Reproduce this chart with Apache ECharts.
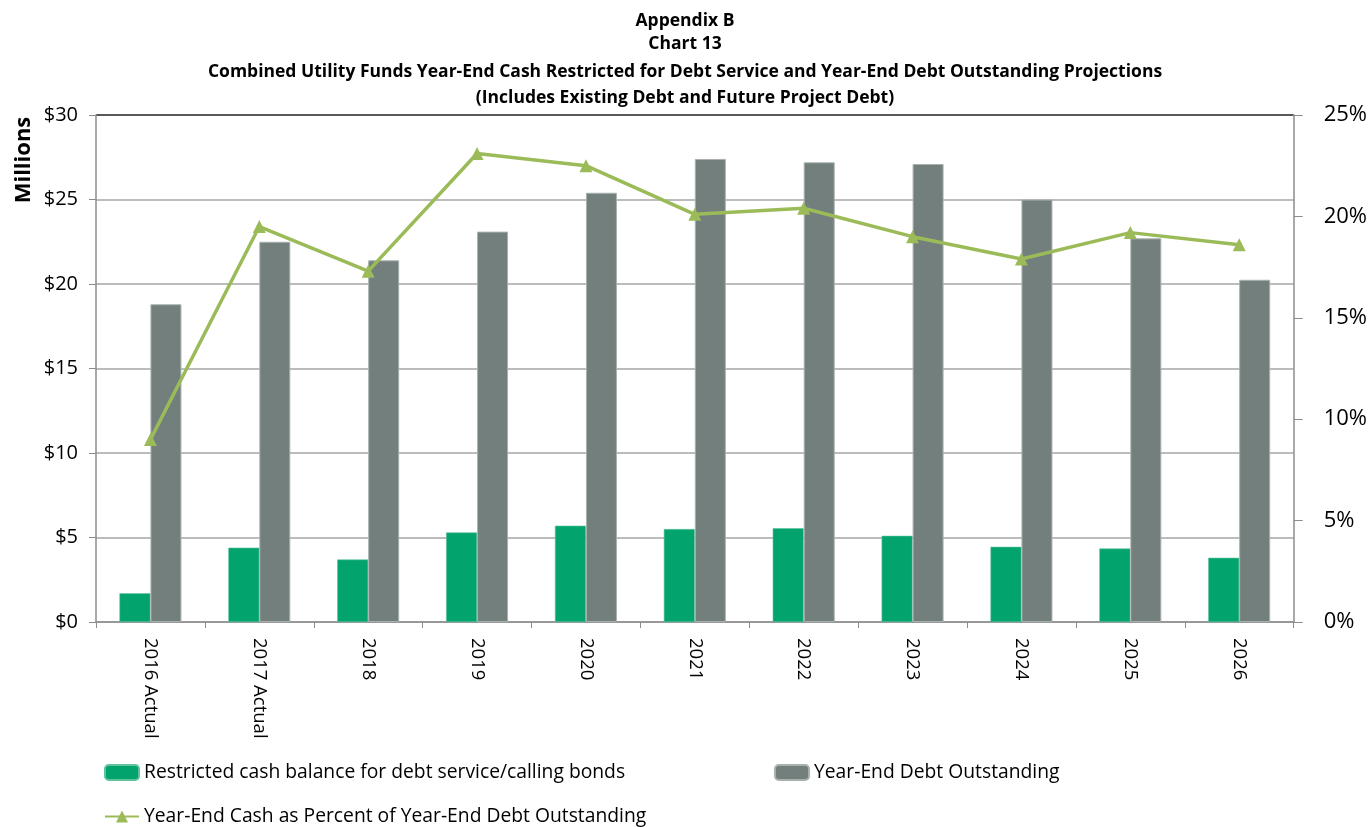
<!DOCTYPE html>
<html>
<head>
<meta charset="utf-8">
<script src="https://cdn.jsdelivr.net/npm/echarts@6/dist/echarts.min.js"></script>
<style>
  html, body { margin: 0; padding: 0; background: #fff; }
  #chart { width: 1370px; height: 827px; }
</style>
</head>
<body>
<div id="chart"></div>
<script>
// categories and values
var years = ['2016 Actual', '2017 Actual', '2018', '2019', '2020', '2021', '2022', '2023', '2024', '2025', '2026'];
var restrictedCash = [1.7, 4.4, 3.7, 5.3, 5.7, 5.5, 5.55, 5.1, 4.45, 4.35, 3.8];
var debtOutstanding = [18.8, 22.5, 21.4, 23.1, 25.4, 27.4, 27.2, 27.1, 25.0, 22.7, 20.25];
var cashPercent = [9.0, 19.5, 17.3, 23.1, 22.5, 20.1, 20.4, 19.0, 17.9, 19.2, 18.6];

var nameCash = 'Restricted cash balance for debt service/calling bonds';
var nameDebt = 'Year-End Debt Outstanding';
var namePct = 'Year-End Cash as Percent of Year-End Debt Outstanding';

var font = '"Open Sans", "Noto Sans", sans-serif';
var titleStyle = { fontFamily: font, fontWeight: 'bold', fontSize: 17.5, color: '#000' };
var legendText = { fontSize: 19.3, color: '#000' };

var chart = echarts.init(document.getElementById('chart'));
chart.setOption({
    animation: false,
    textStyle: { fontFamily: font },
    title: [
        { text: 'Appendix B', left: 'center', top: 12, padding: 0, textStyle: titleStyle },
        { text: 'Chart 13', left: 'center', top: 35, padding: 0, textStyle: titleStyle },
        { text: 'Combined Utility Funds Year-End Cash Restricted for Debt Service and Year-End Debt Outstanding Projections', left: 'center', top: 63, padding: 0, textStyle: titleStyle },
        { text: '(Includes Existing Debt and Future Project Debt)', left: 'center', top: 89, padding: 0, textStyle: titleStyle }
    ],
    graphic: [{
        type: 'text',
        x: 24,
        y: 160,
        rotation: Math.PI / 2,
        style: {
            text: 'Millions',
            font: 'bold 22px ' + font,
            fill: '#000',
            align: 'center',
            verticalAlign: 'middle'
        }
    }],
    legend: [{
        data: [nameCash],
        left: 104,
        top: 763,
        padding: 0,
        itemWidth: 34,
        itemHeight: 15,
        textStyle: legendText
    }, {
        data: [nameDebt],
        left: 774,
        top: 763,
        padding: 0,
        itemWidth: 34,
        itemHeight: 15,
        textStyle: legendText
    }, {
        data: [namePct],
        left: 104,
        top: 807,
        padding: 0,
        itemWidth: 34,
        itemHeight: 15,
        textStyle: legendText
    }],
    grid: {
        left: 96,
        right: 72,
        top: 115,
        bottom: 205
    },
    xAxis: {
        type: 'category',
        data: years,
        axisLine: { lineStyle: { color: '#8c8c8c', width: 1.5 } },
        axisTick: { show: true, length: 6, lineStyle: { color: '#8c8c8c' } },
        axisLabel: {
            rotate: -90,
            interval: 0,
            margin: 16,
            fontSize: 18.5,
            color: '#000'
        }
    },
    yAxis: [{
        type: 'value',
        min: 0,
        max: 30,
        interval: 5,
        axisLine: { show: true, lineStyle: { color: '#8c8c8c', width: 1.5 } },
        axisTick: { show: true, length: 7, lineStyle: { color: '#8c8c8c' } },
        axisLabel: {
            margin: 18,
            fontSize: 20,
            color: '#000',
            formatter: function (v) { return '$' + v; }
        },
        splitLine: {
            lineStyle: {
                color: ['#a6a6a6', '#a6a6a6', '#a6a6a6', '#a6a6a6', '#a6a6a6', '#a6a6a6', '#222'],
                width: 1.5
            }
        }
    }, {
        type: 'value',
        min: 0,
        max: 25,
        interval: 5,
        position: 'right',
        axisLine: { show: true, lineStyle: { color: '#8c8c8c', width: 1.5 } },
        axisTick: { show: true, length: 9, lineStyle: { color: '#8c8c8c' } },
        axisLabel: {
            margin: 30,
            fontSize: 22,
            color: '#000',
            formatter: function (v) { return v + '%'; }
        },
        splitLine: { show: false }
    }],
    series: [{
        name: nameCash,
        type: 'bar',
        data: restrictedCash,
        barWidth: 31,
        barGap: '0%',
        itemStyle: { color: '#02a36c', borderColor: '#5fc49c', borderWidth: 0.6 }
    }, {
        name: nameDebt,
        type: 'bar',
        data: debtOutstanding,
        barWidth: 31,
        barGap: '0%',
        itemStyle: { color: '#727f7c', borderColor: '#a9b1af', borderWidth: 1 }
    }, {
        name: namePct,
        type: 'line',
        yAxisIndex: 1,
        data: cashPercent,
        symbol: 'triangle',
        symbolSize: 13,
        itemStyle: { color: '#9bbb59' },
        lineStyle: { color: '#9bbb59', width: 3.5 }
    }]
});
</script>
</body>
</html>
